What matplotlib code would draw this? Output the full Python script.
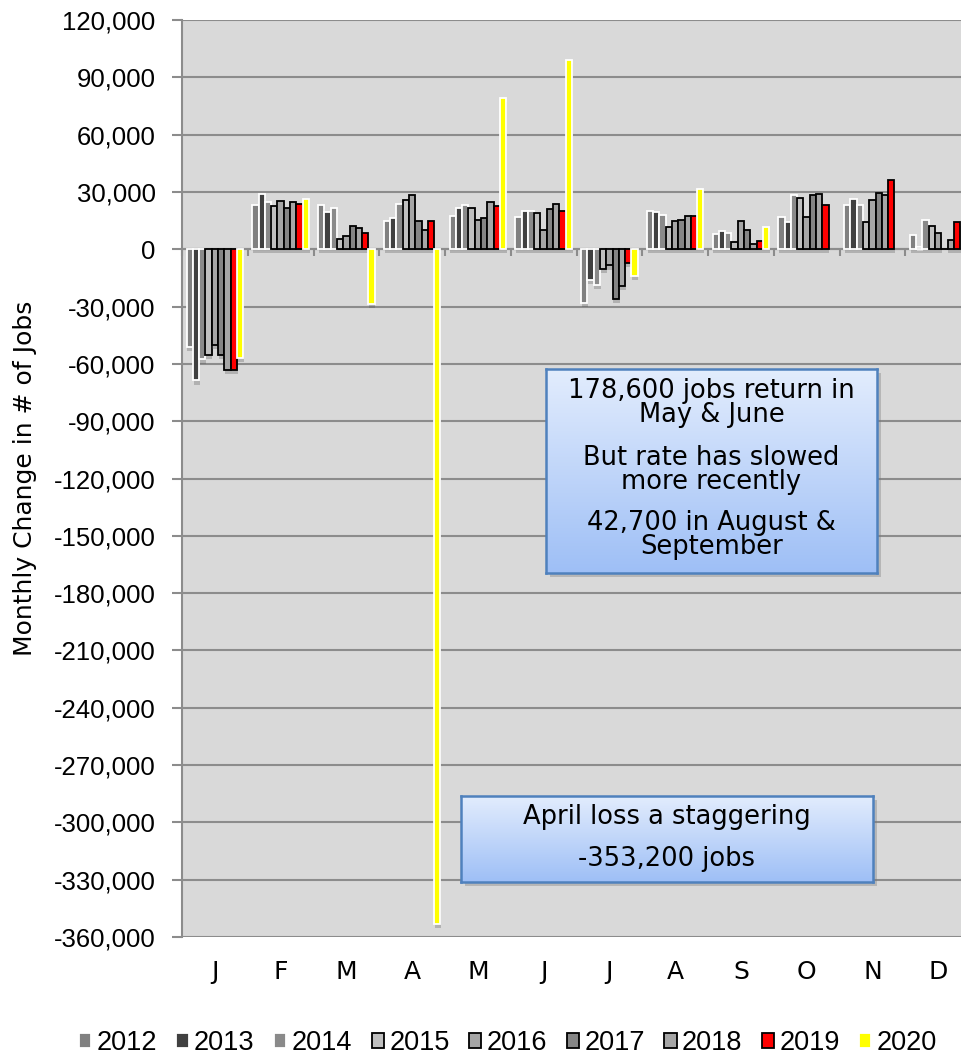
import numpy as np
import matplotlib
matplotlib.use("Agg")
import matplotlib.pyplot as plt
import matplotlib.patheffects as pe
import matplotlib.transforms as mtransforms
from matplotlib.colors import LinearSegmentedColormap
from matplotlib.patches import Rectangle
from matplotlib.ticker import FuncFormatter, MultipleLocator

# Monthly change in number of jobs, by year
months = ["J", "F", "M", "A", "M", "J", "J", "A", "S", "O", "N", "D"]
years = ["2012", "2013", "2014", "2015", "2016", "2017", "2018", "2019", "2020"]

y2012 = [-51300, 23000, 23000, 14700, 17300, 16700, -28100, 19900, 8000, 16900, 23400, 7500]
y2013 = [-68700, 28900, 19500, 16400, 21600, 20200, -15900, 19400, 9400, 14300, 26500, 1100]
y2014 = [-57700, 24800, 21600, 23700, 23000, 19900, -18500, 18100, 8600, 28600, 23400, 15500]
y2015 = [-55100, 22500, 5400, 26000, 21600, 19000, -10300, 11500, 3800, 26900, 14300, 12400]
y2016 = [-50200, 25000, 7100, 28600, 15500, 9900, -8500, 14700, 15000, 17000, 25600, 8500]
y2017 = [-55500, 21500, 12400, 14700, 16400, 21300, -26000, 15500, 10300, 28600, 29500, 0]
y2018 = [-63000, 24600, 11200, 10100, 24600, 23700, -19000, 17300, 2800, 28900, 28300, 4900]
y2019 = [-63000, 23700, 8600, 15000, 22900, 20200, -7200, 17300, 4200, 23300, 36100, 14300]
y2020 = [-56900, 26300, -28600, -353200, 79300, 99300, -14100, 31300, 11400, np.nan, np.nan, np.nan]

series = [y2012, y2013, y2014, y2015, y2016, y2017, y2018, y2019, y2020]

fills = ["#808080", "#404040", "#8a8a8a", "#c0c0c0", "#a6a6a6", "#858585", "#a6a6a6", "#ff0000", "#ffff00"]
edges = ["white", "white", "white", "black", "black", "black", "black", "black", "white"]

W, H = 961, 1058
plt.rcParams["font.family"] = ["DejaVu Sans"]
fig = plt.figure(figsize=(W / 100, H / 100), dpi=100)
ax = fig.add_axes([182 / W, 1 - 937 / H, 789 / W, 917 / H])
ax.set_facecolor("#d9d9d9")

x = np.arange(len(months))
width = 0.0957
shadow = [pe.SimplePatchShadow(offset=(0.5, -3), shadow_rgbFace="#555555", alpha=0.3), pe.Normal()]
for k, vals in enumerate(series):
    ax.bar(x + (k - 4) * width, vals, width, color=fills[k], edgecolor=edges[k],
           linewidth=1.3, zorder=3, path_effects=shadow)

ax.set_xlim(-0.5, 11.5)
ax.set_ylim(-360000, 120000)
ax.yaxis.set_major_locator(MultipleLocator(30000))
ax.yaxis.set_major_formatter(FuncFormatter(lambda v, p: f"{int(round(v)):,}"))
ax.yaxis.grid(True, color="#8c8c8c", linewidth=1.5)
ax.set_axisbelow(True)

gray = "#8c8c8c"
for s in ["top", "right"]:
    ax.spines[s].set_visible(False)
ax.spines["left"].set_color(gray)
ax.spines["left"].set_linewidth(1.5)
ax.spines["bottom"].set_position(("data", 0))
ax.spines["bottom"].set_color(gray)
ax.spines["bottom"].set_linewidth(1.5)

ax.set_xticks(np.arange(-0.5, 12, 1))
ax.tick_params(axis="x", direction="out", length=5, width=1.5, color=gray, labelbottom=False)
ax.tick_params(axis="y", direction="out", length=7, width=1.5, color=gray, pad=12)
for lab in ax.get_yticklabels():
    lab.set_fontfamily("Liberation Sans")
    lab.set_fontsize(18.5)

trans = mtransforms.blended_transform_factory(ax.transData, ax.transAxes)
for xi, m in zip(x, months):
    ax.text(xi, -0.038, m, transform=trans, ha="center", va="center", fontsize=18)

ax.set_ylabel("Monthly Change in # of Jobs", fontsize=18)
ax.yaxis.set_label_coords((37 - 182) / 789, 0.5)

# legend
handles = [Rectangle((0, 0), 1, 1, facecolor=f, edgecolor=e, linewidth=1.3) for f, e in zip(fills, edges)]
fig.legend(handles, years, loc="center", bbox_to_anchor=(508 / W, 1 - 1043 / H), ncol=9,
           frameon=False, prop={"family": "Liberation Sans", "size": 19.5},
           handlelength=0.45, handleheight=0.45, handletextpad=0.2, columnspacing=0.72)

# annotation boxes
cmap = LinearSegmentedColormap.from_list("boxgrad", ["#e3edfd", "#9ebff6"])


def add_box(x0, y0, x1, y1, paragraphs, centers):
    fig.patches.append(Rectangle(((x0 + 4) / W, 1 - (y1 + 4) / H), (x1 - x0) / W, (y1 - y0) / H,
                                 transform=fig.transFigure, facecolor="#777777", alpha=0.35,
                                 edgecolor="none", zorder=4))
    bax = fig.add_axes([x0 / W, 1 - y1 / H, (x1 - x0) / W, (y1 - y0) / H], zorder=5)
    bax.imshow(np.linspace(0, 1, 256)[:, None], aspect="auto", cmap=cmap, extent=(0, 1, 0, 1))
    bax.set_xticks([])
    bax.set_yticks([])
    for sp in bax.spines.values():
        sp.set_color("#4f81bd")
        sp.set_linewidth(1.8)
    for para, yc in zip(paragraphs, centers):
        bax.text(0.5, (y1 - yc) / (y1 - y0), para, transform=bax.transAxes,
                 ha="center", va="center", fontsize=18.5, linespacing=0.92)


add_box(546, 369, 877, 573,
        ["178,600 jobs return in\nMay & June", "But rate has slowed\nmore recently",
         "42,700 in August &\nSeptember"],
        [403, 470, 535])
add_box(461, 796, 873, 882, ["April loss a staggering", "-353,200 jobs"], [817, 859])

fig.savefig("out.png", dpi=100)
